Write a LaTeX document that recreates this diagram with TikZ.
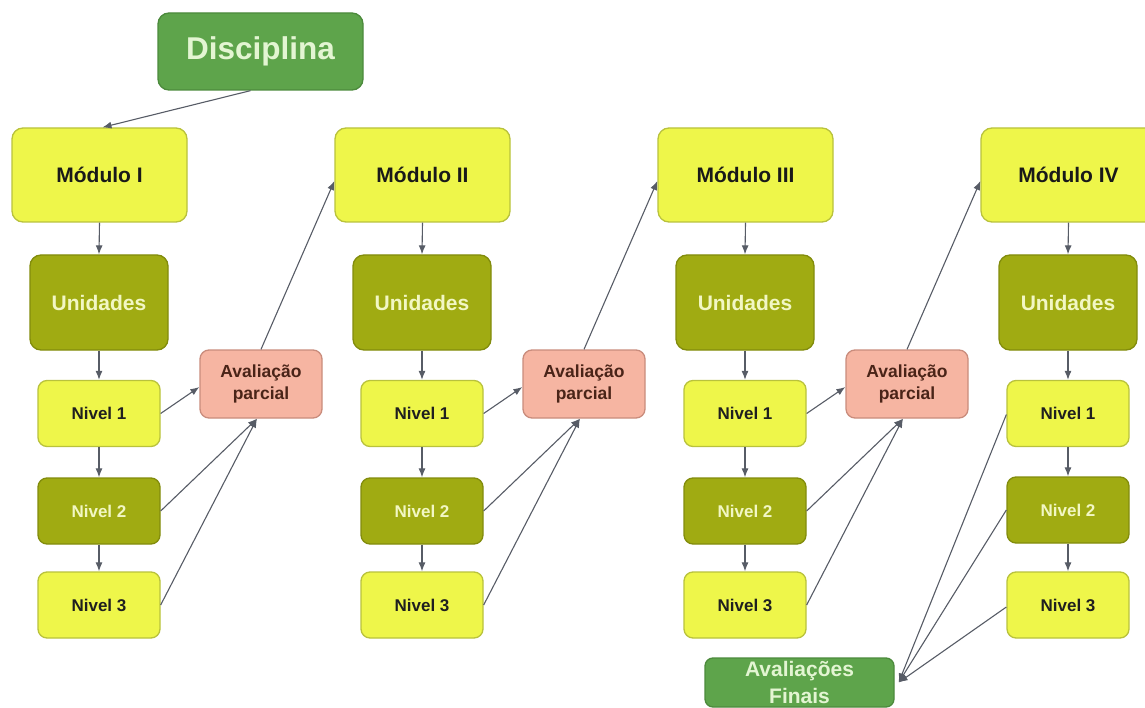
\documentclass[tikz,border=0pt]{standalone}
\usepackage{fontspec}
\setmainfont{Liberation Sans}
\usetikzlibrary{arrows.meta}

\definecolor{yelfill}{HTML}{EEF64A}
\definecolor{yeldraw}{HTML}{B9C23C}
\definecolor{olvfill}{HTML}{A0AB12}
\definecolor{olvdraw}{HTML}{828C0C}
\definecolor{olvtext}{HTML}{F2F7C4}
\definecolor{grnfill}{HTML}{5EA44B}
\definecolor{grndraw}{HTML}{4C8A3C}
\definecolor{grntext}{HTML}{E3F5D2}
\definecolor{salfill}{HTML}{F6B5A2}
\definecolor{saldraw}{HTML}{C98C7C}
\definecolor{saltext}{HTML}{4A2418}
\definecolor{linkcol}{HTML}{575C66}

\tikzset{
  box/.style={rectangle, rounded corners=11pt, line width=1.3pt, align=center,
    font=\bfseries, inner sep=0pt},
  modbox/.style={box, fill=yelfill, draw=yeldraw, text=black!90,
    minimum width=175pt, minimum height=94pt, font=\bfseries\fontsize{21}{24}\selectfont},
  unibox/.style={box, fill=olvfill, draw=olvdraw, text=olvtext,
    minimum width=138pt, minimum height=95pt, font=\bfseries\fontsize{21}{24}\selectfont},
  lvlbox/.style={box, rounded corners=9pt, fill=yelfill, draw=yeldraw, text=black!88,
    minimum width=122pt, minimum height=66pt, font=\bfseries\fontsize{17}{20}\selectfont},
  lvldark/.style={lvlbox, fill=olvfill, draw=olvdraw, text=olvtext},
  evalbox/.style={box, rounded corners=9pt, fill=salfill, draw=saldraw, text=saltext,
    minimum width=122pt, minimum height=68pt, font=\bfseries\fontsize{17.5}{22}\selectfont},
  topbox/.style={box, fill=grnfill, draw=grndraw, text=grntext},
  link/.style={draw=linkcol, line width=1.1pt, -{Latex[length=9pt,width=7pt]}}
}

\begin{document}
\begin{tikzpicture}[x=1pt,y=-1pt]
\useasboundingbox (0,0) rectangle (1145,708);

% course heading
\node[topbox, minimum width=205pt, minimum height=77pt,
      font=\bfseries\fontsize{31.5}{34}\selectfont] (disc) at (260.5,51.5) {Disciplina};

% column I
\node[modbox] (m1) at (99.5,175) {Módulo I};
\node[unibox] (u1) at (99,302.5) {Unidades};
\node[lvlbox] (a1) at (99,413.5) {Nivel 1};
\node[lvldark] (b1) at (99,511) {Nivel 2};
\node[lvlbox] (c1) at (99,605) {Nivel 3};
\node[evalbox] (e1) at (261,384) {Avaliação\\parcial};

% column II
\node[modbox] (m2) at (422.5,175) {Módulo II};
\node[unibox] (u2) at (422,302.5) {Unidades};
\node[lvlbox] (a2) at (422,413.5) {Nivel 1};
\node[lvldark] (b2) at (422,511) {Nivel 2};
\node[lvlbox] (c2) at (422,605) {Nivel 3};
\node[evalbox] (e2) at (584,384) {Avaliação\\parcial};

% column III
\node[modbox] (m3) at (745.5,175) {Módulo III};
\node[unibox] (u3) at (745,302.5) {Unidades};
\node[lvlbox] (a3) at (745,413.5) {Nivel 1};
\node[lvldark] (b3) at (745,511) {Nivel 2};
\node[lvlbox] (c3) at (745,605) {Nivel 3};
\node[evalbox] (e3) at (907,384) {Avaliação\\parcial};

% column IV
\node[modbox] (m4) at (1068.5,175) {Módulo IV};
\node[unibox] (u4) at (1068,302.5) {Unidades};
\node[lvlbox] (a4) at (1068,413.5) {Nivel 1};
\node[lvldark] (b4) at (1068,510) {Nivel 2};
\node[lvlbox] (c4) at (1068,605) {Nivel 3};

% final assessment
\node[topbox, rounded corners=8pt, minimum width=189pt, minimum height=49pt,
      font=\bfseries\fontsize{21}{27}\selectfont] (fin) at (799.5,682.5) {Avaliações\\Finais};

% links
\draw[link] ([xshift=-10pt]disc.south) -- ([xshift=3pt]m1.north);

\foreach \i in {1,2,3,4}{
  \draw[link] (m\i.south) -- (u\i.north);
  \draw[link] (u\i.south) -- (a\i.north);
  \draw[link] (a\i.south) -- (b\i.north);
  \draw[link] (b\i.south) -- (c\i.north);
}

\foreach \i/\n in {1/2,2/3,3/4}{
  \draw[link] (a\i.east) -- ([yshift=-3pt]e\i.west);
  \draw[link] (b\i.east) -- ([xshift=-4pt]e\i.south);
  \draw[link] (c\i.east) -- ([xshift=-4pt]e\i.south);
  \draw[link] (e\i.north) -- ([yshift=-6pt]m\n.west);
}

\draw[link] ([yshift=-1pt]a4.west) -- ([xshift=4pt]fin.east);
\draw[link] (b4.west) -- ([xshift=4pt]fin.east);
\draw[link] ([yshift=-2pt]c4.west) -- ([xshift=4pt]fin.east);
\end{tikzpicture}
\end{document}
